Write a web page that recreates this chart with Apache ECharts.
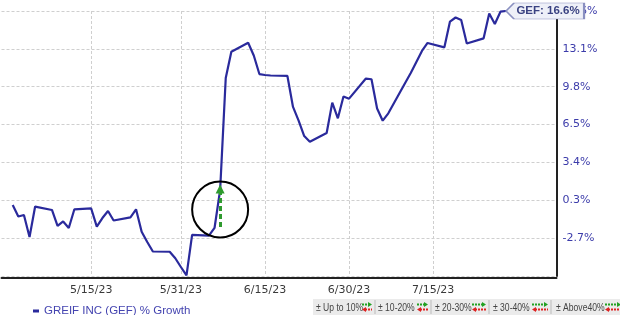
<!DOCTYPE html>
<html>
<head>
<meta charset="utf-8">
<script src="https://cdn.jsdelivr.net/npm/echarts@6/dist/echarts.min.js"></script>
<style>
html,body{margin:0;padding:0;background:#fff;}
#chart{width:620px;height:315px;}
</style>
</head>
<body>
<div id="chart"></div>
<script>
// ---- data ----
const seriesName = 'GREIF INC (GEF) % Growth';
const tradeDates = ['5/1/23','5/2/23','5/3/23','5/4/23','5/5/23','5/8/23','5/9/23','5/10/23','5/11/23','5/12/23',
  '5/15/23','5/16/23','5/17/23','5/18/23','5/19/23','5/22/23','5/23/23','5/24/23','5/25/23','5/26/23',
  '5/29/23','5/30/23','5/31/23','6/1/23','6/2/23','6/5/23','6/6/23','6/7/23','6/8/23','6/9/23',
  '6/12/23','6/13/23','6/14/23','6/15/23','6/16/23','6/19/23','6/20/23','6/21/23','6/22/23','6/23/23',
  '6/26/23','6/27/23','6/28/23','6/29/23','6/30/23','7/3/23','7/4/23','7/5/23','7/6/23','7/7/23',
  '7/10/23','7/11/23','7/12/23','7/13/23','7/14/23','7/17/23','7/18/23','7/19/23','7/20/23','7/21/23',
  '7/24/23','7/25/23','7/26/23','7/27/23','7/28/23'];
const growth = [-0.40,-1.37,-1.24,-3.10,-0.53,-0.82,-2.17,-1.79,-2.34,-0.76,
  -0.69,-2.23,-1.50,-0.91,-1.71,-1.44,-0.76,-2.66,-3.53,-4.33,
  -4.35,-4.90,-5.64,-6.35,-2.93,-2.98,-2.34,0.87,10.34,12.56,
  13.32,12.24,10.67,10.59,10.55,10.51,7.89,6.74,5.43,4.95,
  5.69,8.25,6.93,8.77,8.59,10.29,10.23,7.76,6.73,7.35,
  9.91,10.76,11.69,12.62,13.30,12.93,15.11,15.45,15.24,13.25,
  13.69,15.79,14.90,15.94,16.0];
const tickDates = ['5/15/23','5/31/23','6/15/23','6/30/23','7/15/23'];
const yTickLabels = ['-2.7%','0.3%','3.4%','6.5%','9.8%','13.1%','16.6%'];
const tagText = 'GEF: 16.6%';
const eventDate = '6/7/23';
const eventCircleY = -0.78;
const eventArrow = [-2.26, 0.95];
const rangeLabels = ['\u00b1 Up to 10%','\u00b1 10-20%','\u00b1 20-30%','\u00b1 30-40%','\u00b1 Above40%'];

// ---- calendar axis (4/29/23 .. 8/6/23) ----
const days = [];
for (let d = new Date(2023,3,29); d <= new Date(2023,7,6); d.setDate(d.getDate()+1)) {
  days.push((d.getMonth()+1) + '/' + d.getDate() + '/' + String(d.getFullYear()).slice(2));
}
const valByDate = {};
tradeDates.forEach((d,i) => valByDate[d] = growth[i]);
const lineData = days.map(d => (d in valByDate) ? valByDate[d] : null);
const lastDate = tradeDates[tradeDates.length-1];
const lastVal = growth[growth.length-1];

const isTick = (idx, val) => tickDates.indexOf(val) >= 0;

// ---- bottom-right range legend (decoration) ----
const textX = [316,378,435,493,556];
const arrowX = [362,417,472,532,605];
const arrowLen = [10,11,14,16,16];
const sepX = [375,431,489,551];
const graphics = [{type:'rect', shape:{x:313,y:299,width:307,height:16}, style:{fill:'#ebebeb'}, z:1}];
rangeLabels.forEach((t,i) => {
  graphics.push({type:'text', x:textX[i], y:307.5, scaleX:0.78, style:{text:t, fill:'#444', font:'11px "Liberation Sans", Arial', textVerticalAlign:'middle'}, z:2});
  const a = arrowX[i], L = arrowLen[i];
  graphics.push({type:'line', shape:{x1:a,y1:304.5,x2:a+L-3,y2:304.5}, style:{stroke:'#22a022', lineWidth:2, lineDash:[2,1]}, z:2});
  graphics.push({type:'polygon', shape:{points:[[a+L-4,302],[a+L,304.5],[a+L-4,307]]}, style:{fill:'#22a022'}, z:2});
  graphics.push({type:'line', shape:{x1:a+3,y1:309.5,x2:a+L,y2:309.5}, style:{stroke:'#dd2222', lineWidth:2, lineDash:[2,1]}, z:2});
  graphics.push({type:'polygon', shape:{points:[[a+4,307],[a,309.5],[a+4,312]]}, style:{fill:'#dd2222'}, z:2});
});
sepX.forEach(x => graphics.push({type:'line', shape:{x1:x,y1:300,x2:x,y2:314}, style:{stroke:'#bbb', lineWidth:1}, z:2}));

const chart = echarts.init(document.getElementById('chart'), null, {renderer:'canvas'});
chart.setOption({
  animation:false,
  backgroundColor:'#fff',
  grid:{left:1.5, right:63.5, top:11, bottom:39, containLabel:false},
  legend:{
    left:28, top:300, icon:'rect', itemWidth:6, itemHeight:3, itemGap:10,
    textStyle:{color:'#4444b0', fontSize:11.5, fontFamily:'"Liberation Sans", Arial, sans-serif'},
    data:[seriesName]
  },
  xAxis:{
    type:'category', data:days, boundaryGap:false, offset:2,
    axisLine:{show:true, onZero:false, lineStyle:{color:'#222', width:2}},
    axisTick:{show:false},
    axisLabel:{interval:isTick, color:'#3a3a3a', fontSize:11, fontFamily:'"DejaVu Sans", Verdana, sans-serif', margin:7},
    splitLine:{show:true, interval:isTick, lineStyle:{color:'#cfcfcf', type:[3,2], width:1}}
  },
  yAxis:{
    type:'value', position:'right', min:-6.4, max:16.0, interval:3.2,
    axisLine:{show:true, lineStyle:{color:'#222', width:2}},
    axisTick:{show:false},
    axisLabel:{color:'#3c3caa', fontSize:11, fontFamily:'"DejaVu Sans", Verdana, sans-serif', margin:6,
      formatter:v => { const k = Math.round((v + 3.2)/3.2); return (k >= 0 && k < yTickLabels.length) ? yTickLabels[k] : ''; }},
    splitLine:{show:true, lineStyle:{color:'#cfcfcf', type:[3,2], width:1}}
  },
  series:[{
    name:seriesName, type:'line', data:lineData, connectNulls:true, showSymbol:false, symbol:'none',
    color:'#2a2a9c',
    lineStyle:{color:'#2a2a9c', width:2.2},
    silent:true,
    markLine:{
      silent:true, symbol:['none','triangle'], symbolSize:[9,9],
      label:{show:false},
      lineStyle:{color:'#2e9a2e', type:[5,3], width:3},
      data:[[{coord:[eventDate, eventArrow[0]]},{coord:[eventDate, eventArrow[1]]}]]
    },
    markPoint:{
      silent:true, z:10,
      data:[
        {coord:[eventDate, eventCircleY], symbol:'circle', symbolSize:56,
         itemStyle:{color:'rgba(0,0,0,0)', borderColor:'#000', borderWidth:2}, label:{show:false}},
        {coord:[lastDate, lastVal], symbol:'path://M0,8 L8,0 L78,0 L78,16 L8,16 Z', symbolSize:[78,16],
         symbolKeepAspect:false, symbolOffset:[39,0],
         itemStyle:{color:'#eef0f8', borderColor:'#8a90c0', borderWidth:1},
         label:{show:true, position:'inside', offset:[3,0], formatter:tagText, color:'#3a4282',
                fontWeight:'bold', fontSize:11.5, fontFamily:'"Liberation Sans", Arial, sans-serif'}}
      ]
    }
  }],
  graphic:graphics
});
</script>
</body>
</html>
